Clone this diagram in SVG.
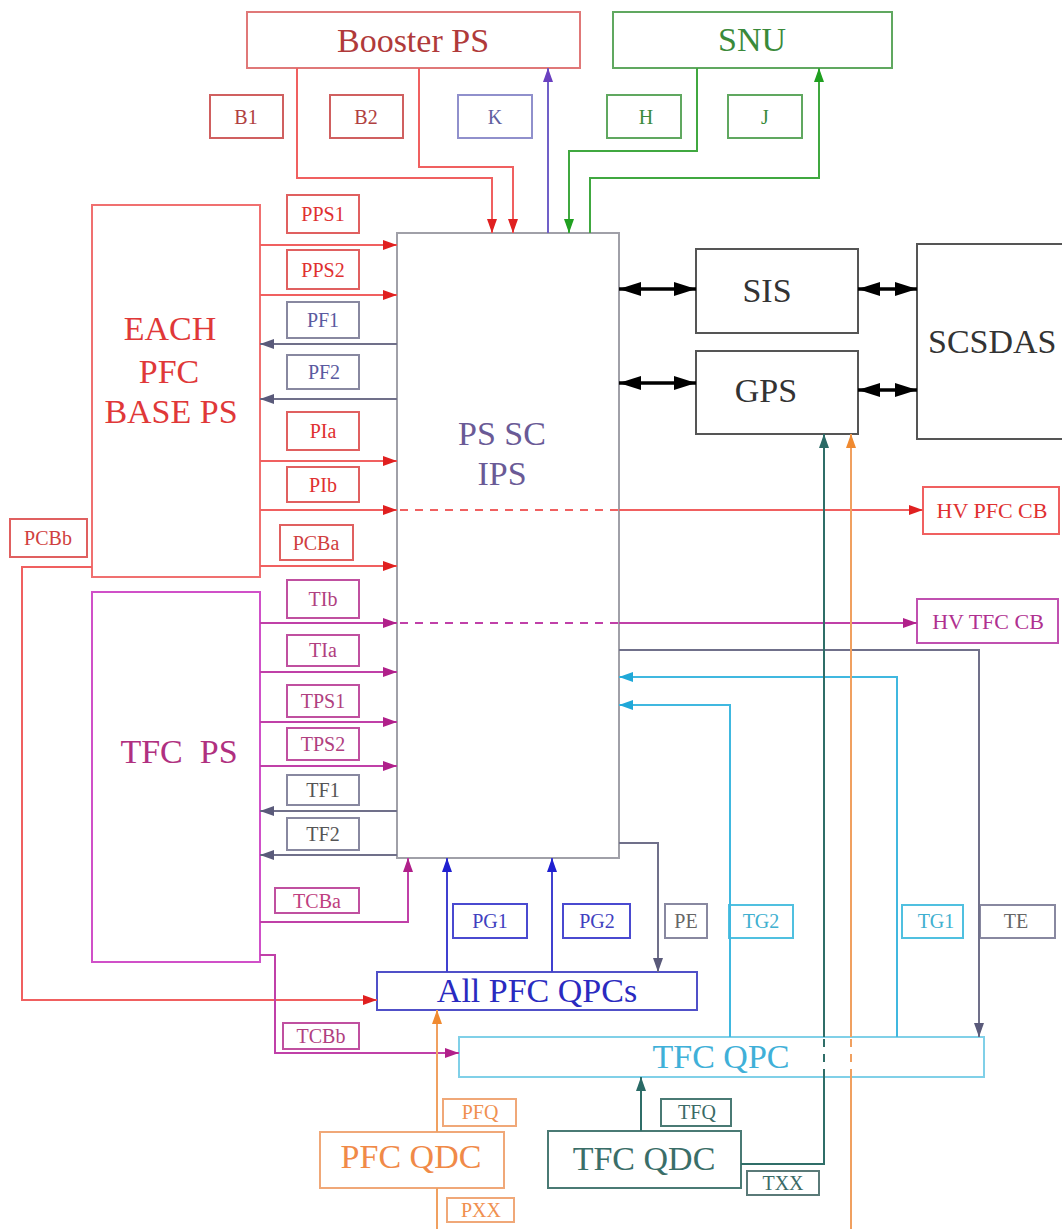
<svg xmlns="http://www.w3.org/2000/svg" width="1062" height="1229" viewBox="0 0 1062 1229">
<style>
text{font-family:"Liberation Serif","Times New Roman",serif;text-anchor:middle}
.big{font-size:34px}
.lbl{font-size:20px}
.hv{font-size:22px}
rect{fill:#fff;stroke-width:2}
.c{fill:none;stroke-width:2}
.red{stroke:#f06060}
.gray{stroke:#70708a}
.mag{stroke:#c040a8}
.blue{stroke:#4040d0}
.cyan{stroke:#40b8e0}
.teal{stroke:#2f6e68}
.org{stroke:#f0a060}
.grn{stroke:#40a840}
.pur{stroke:#7060c8}
.blk{stroke:#000;stroke-width:3.5}
.dash{stroke-dasharray:8 7}
</style>
<defs>
<marker id="aRed" markerUnits="userSpaceOnUse" markerWidth="14" markerHeight="10" refX="14" refY="5" orient="auto"><path d="M0,0L14,5L0,10z" fill="#e02020"/></marker>
<marker id="aGray" markerUnits="userSpaceOnUse" markerWidth="14" markerHeight="10" refX="14" refY="5" orient="auto"><path d="M0,0L14,5L0,10z" fill="#5a5a7a"/></marker>
<marker id="aMag" markerUnits="userSpaceOnUse" markerWidth="14" markerHeight="10" refX="14" refY="5" orient="auto"><path d="M0,0L14,5L0,10z" fill="#b0208a"/></marker>
<marker id="aBlue" markerUnits="userSpaceOnUse" markerWidth="14" markerHeight="10" refX="14" refY="5" orient="auto"><path d="M0,0L14,5L0,10z" fill="#2020d0"/></marker>
<marker id="aCyan" markerUnits="userSpaceOnUse" markerWidth="14" markerHeight="10" refX="14" refY="5" orient="auto"><path d="M0,0L14,5L0,10z" fill="#20a8d8"/></marker>
<marker id="aTeal" markerUnits="userSpaceOnUse" markerWidth="14" markerHeight="10" refX="14" refY="5" orient="auto"><path d="M0,0L14,5L0,10z" fill="#2a6a66"/></marker>
<marker id="aOrg" markerUnits="userSpaceOnUse" markerWidth="14" markerHeight="10" refX="14" refY="5" orient="auto"><path d="M0,0L14,5L0,10z" fill="#f08a30"/></marker>
<marker id="aGrn" markerUnits="userSpaceOnUse" markerWidth="14" markerHeight="10" refX="14" refY="5" orient="auto"><path d="M0,0L14,5L0,10z" fill="#20a020"/></marker>
<marker id="aPur" markerUnits="userSpaceOnUse" markerWidth="14" markerHeight="10" refX="14" refY="5" orient="auto"><path d="M0,0L14,5L0,10z" fill="#6a40c0"/></marker>
<marker id="aBlk" markerUnits="userSpaceOnUse" markerWidth="22" markerHeight="14" refX="22" refY="7" orient="auto-start-reverse"><path d="M0,0L22,7L0,14z" fill="#000"/></marker>
</defs>

<g id="booster-ps"><rect x="247" y="12" width="333" height="56" style="stroke:#e07878"/><text class="big" x="413" y="52" fill="#b03a3a">Booster PS</text></g>
<g id="snu"><rect x="613" y="12" width="279" height="56" style="stroke:#60a860"/><text class="big" x="752" y="51" fill="#3a8a3a">SNU</text></g>
<g id="each-pfc-base-ps"><rect x="92" y="205" width="168" height="372" style="stroke:#f07070"/><text class="big" x="170" y="340" fill="#e03838">EACH</text><text class="big" x="169" y="383" fill="#e03838">PFC</text><text class="big" x="171" y="423" fill="#e03838">BASE PS</text></g>
<g id="tfc-ps"><rect x="92" y="592" width="168" height="370" style="stroke:#d050c8"/><text class="big" x="179" y="763" fill="#b03080" xml:space="preserve">TFC  PS</text></g>
<g id="ps-sc-ips"><rect x="397" y="233" width="222" height="625" style="stroke:#a0a0a8"/><text class="big" x="502" y="445" fill="#6a5a96">PS SC</text><text class="big" x="502" y="485" fill="#6a5a96">IPS</text></g>
<g id="sis"><rect x="696" y="249" width="162" height="84" style="stroke:#555"/><text class="big" x="767" y="302" fill="#333">SIS</text></g>
<g id="gps"><rect x="696" y="351" width="162" height="83" style="stroke:#555"/><text class="big" x="766" y="402" fill="#333">GPS</text></g>
<g id="scsdas"><rect x="917" y="244" width="160" height="195" style="stroke:#555"/><text class="big" x="928" y="353" fill="#333" style="text-anchor:start">SCSDAS</text></g>
<g id="hv-pfc-cb"><rect x="923" y="487" width="136" height="47" style="stroke:#f06060"/><text class="hv" x="992" y="518" fill="#e03030">HV PFC CB</text></g>
<g id="hv-tfc-cb"><rect x="917" y="599" width="141" height="44" style="stroke:#c050b0"/><text class="hv" x="988" y="629" fill="#b03090">HV TFC CB</text></g>
<g id="all-pfc-qpcs"><rect x="377" y="972" width="320" height="38" style="stroke:#5050c8"/><text class="big" x="537" y="1002" fill="#2a2ac0">All PFC QPCs</text></g>
<g id="tfc-qpc"><rect x="459" y="1037" width="525" height="40" style="stroke:#80d0e8"/><text class="big" x="721" y="1068" fill="#40b0d8">TFC QPC</text></g>
<g id="pfc-qdc"><rect x="320" y="1132" width="184" height="56" style="stroke:#f0a878"/><text class="big" x="411" y="1168" fill="#f08a48">PFC QDC</text></g>
<g id="tfc-qdc"><rect x="548" y="1131" width="193" height="57" style="stroke:#4a7a74"/><text class="big" x="644" y="1170" fill="#3a6e68">TFC QDC</text></g>

<g id="label-b1"><rect x="210" y="95" width="73" height="43" style="stroke:#d06060"/><text class="lbl" x="246" y="124" fill="#b04040">B1</text></g>
<g id="label-b2"><rect x="330" y="95" width="73" height="43" style="stroke:#d06060"/><text class="lbl" x="366" y="124" fill="#b04040">B2</text></g>
<g id="label-k"><rect x="458" y="95" width="74" height="43" style="stroke:#9090cc"/><text class="lbl" x="495" y="124" fill="#6060a0">K</text></g>
<g id="label-h"><rect x="607" y="95" width="74" height="43" style="stroke:#60a860"/><text class="lbl" x="646" y="124" fill="#3a8a3a">H</text></g>
<g id="label-j"><rect x="728" y="95" width="74" height="43" style="stroke:#60a860"/><text class="lbl" x="765" y="124" fill="#3a8a3a">J</text></g>
<g id="label-pps1"><rect x="287" y="195" width="72" height="38" style="stroke:#e06060"/><text class="lbl" x="323" y="221" fill="#e03030">PPS1</text></g>
<g id="label-pps2"><rect x="287" y="250" width="72" height="39" style="stroke:#e06060"/><text class="lbl" x="323" y="277" fill="#e03030">PPS2</text></g>
<g id="label-pf1"><rect x="287" y="302" width="72" height="36" style="stroke:#8888a0"/><text class="lbl" x="323" y="327" fill="#5a5aa0">PF1</text></g>
<g id="label-pf2"><rect x="287" y="355" width="72" height="34" style="stroke:#8888a0"/><text class="lbl" x="324" y="379" fill="#5a5aa0">PF2</text></g>
<g id="label-pia"><rect x="287" y="412" width="72" height="38" style="stroke:#e06060"/><text class="lbl" x="323" y="438" fill="#e03030">PIa</text></g>
<g id="label-pib"><rect x="287" y="467" width="72" height="35" style="stroke:#e06060"/><text class="lbl" x="323" y="492" fill="#e03030">PIb</text></g>
<g id="label-pcba"><rect x="280" y="525" width="73" height="35" style="stroke:#e06060"/><text class="lbl" x="316" y="550" fill="#d04040">PCBa</text></g>
<g id="label-pcbb"><rect x="10" y="519" width="77" height="38" style="stroke:#e06060"/><text class="lbl" x="48" y="545" fill="#d04040">PCBb</text></g>
<g id="label-tib"><rect x="287" y="580" width="72" height="38" style="stroke:#c050a0"/><text class="lbl" x="323" y="606" fill="#b04080">TIb</text></g>
<g id="label-tia"><rect x="287" y="635" width="72" height="31" style="stroke:#c050a0"/><text class="lbl" x="323" y="657" fill="#b04080">TIa</text></g>
<g id="label-tps1"><rect x="287" y="685" width="72" height="32" style="stroke:#c050a0"/><text class="lbl" x="323" y="708" fill="#b04080">TPS1</text></g>
<g id="label-tps2"><rect x="287" y="728" width="72" height="32" style="stroke:#c050a0"/><text class="lbl" x="323" y="751" fill="#b04080">TPS2</text></g>
<g id="label-tf1"><rect x="287" y="775" width="72" height="30" style="stroke:#8888a0"/><text class="lbl" x="323" y="797" fill="#555">TF1</text></g>
<g id="label-tf2"><rect x="287" y="818" width="72" height="32" style="stroke:#8888a0"/><text class="lbl" x="323" y="841" fill="#555">TF2</text></g>
<g id="label-tcba"><rect x="275" y="888" width="84" height="25" style="stroke:#c050a0"/><text class="lbl" x="317" y="908" fill="#c04080">TCBa</text></g>
<g id="label-tcbb"><rect x="283" y="1023" width="76" height="26" style="stroke:#c050a0"/><text class="lbl" x="321" y="1043" fill="#b04080">TCBb</text></g>
<g id="label-pg1"><rect x="453" y="904" width="74" height="34" style="stroke:#4a4ad0"/><text class="lbl" x="490" y="928" fill="#4040c0">PG1</text></g>
<g id="label-pg2"><rect x="563" y="904" width="67" height="34" style="stroke:#4a4ad0"/><text class="lbl" x="597" y="928" fill="#4040c0">PG2</text></g>
<g id="label-pe"><rect x="665" y="904" width="42" height="34" style="stroke:#8888a0"/><text class="lbl" x="686" y="928" fill="#666">PE</text></g>
<g id="label-tg2"><rect x="729" y="905" width="64" height="33" style="stroke:#50c0e0"/><text class="lbl" x="761" y="928" fill="#40b0d0">TG2</text></g>
<g id="label-tg1"><rect x="902" y="905" width="61" height="33" style="stroke:#50c0e0"/><text class="lbl" x="936" y="928" fill="#40b0d0">TG1</text></g>
<g id="label-te"><rect x="980" y="905" width="75" height="33" style="stroke:#8888a0"/><text class="lbl" x="1016" y="928" fill="#666">TE</text></g>
<g id="label-pfq"><rect x="443" y="1099" width="73" height="27" style="stroke:#f0a878"/><text class="lbl" x="480" y="1119" fill="#f09050">PFQ</text></g>
<g id="label-tfq"><rect x="661" y="1099" width="70" height="27" style="stroke:#4a7a74"/><text class="lbl" x="697" y="1119" fill="#3a6a66">TFQ</text></g>
<g id="label-txx"><rect x="747" y="1171" width="72" height="24" style="stroke:#5a7a78"/><text class="lbl" x="783" y="1190" fill="#3a6a66">TXX</text></g>
<g id="label-pxx"><rect x="447" y="1198" width="67" height="24" style="stroke:#f0a878"/><text class="lbl" x="481" y="1217" fill="#f09050">PXX</text></g>

<g id="connectors">
<path class="c red" d="M297,68V178H492V233" marker-end="url(#aRed)"/>
<path class="c red" d="M419,68V167H513V233" marker-end="url(#aRed)"/>
<path class="c pur" d="M548,233V68" marker-end="url(#aPur)"/>
<path class="c grn" d="M697,68V151H569V233" marker-end="url(#aGrn)"/>
<path class="c grn" d="M590,233V178H819V68" marker-end="url(#aGrn)"/>
<path class="c red" d="M260,245H397" marker-end="url(#aRed)"/>
<path class="c red" d="M260,295H397" marker-end="url(#aRed)"/>
<path class="c gray" d="M397,344H260" marker-end="url(#aGray)"/>
<path class="c gray" d="M397,399H260" marker-end="url(#aGray)"/>
<path class="c red" d="M260,461H397" marker-end="url(#aRed)"/>
<path class="c red" d="M260,510H397" marker-end="url(#aRed)"/>
<path class="c red dash" d="M400,510H619"/>
<path class="c red" d="M619,510H923" marker-end="url(#aRed)"/>
<path class="c red" d="M260,566H397" marker-end="url(#aRed)"/>
<path class="c red" d="M92,567H22V1000H377" marker-end="url(#aRed)"/>
<path class="c mag" d="M260,623H397" marker-end="url(#aMag)"/>
<path class="c mag dash" d="M400,623H619"/>
<path class="c mag" d="M619,623H917" marker-end="url(#aMag)"/>
<path class="c mag" d="M260,672H397" marker-end="url(#aMag)"/>
<path class="c mag" d="M260,722H397" marker-end="url(#aMag)"/>
<path class="c mag" d="M260,766H397" marker-end="url(#aMag)"/>
<path class="c gray" d="M397,811H260" marker-end="url(#aGray)"/>
<path class="c gray" d="M397,855H260" marker-end="url(#aGray)"/>
<path class="c mag" d="M260,922H408V858" marker-end="url(#aMag)"/>
<path class="c mag" d="M260,955H275V1053H459" marker-end="url(#aMag)"/>
<path class="c blue" d="M447,972V858" marker-end="url(#aBlue)"/>
<path class="c blue" d="M552,972V858" marker-end="url(#aBlue)"/>
<path class="c gray" d="M619,843H658V972" marker-end="url(#aGray)"/>
<path class="c gray" d="M619,650H979V1037" marker-end="url(#aGray)"/>
<path class="c cyan" d="M897,1037V677H619" marker-end="url(#aCyan)"/>
<path class="c cyan" d="M730,1037V705H619" marker-end="url(#aCyan)"/>
<path class="c teal" d="M641,1131V1077" marker-end="url(#aTeal)"/>
<path class="c teal" d="M741,1164H824V1077"/>
<path class="c teal dash" d="M824,1077V1037"/>
<path class="c teal" d="M824,1037V434" marker-end="url(#aTeal)"/>
<path class="c org" d="M851,1229V1077"/>
<path class="c org dash" d="M851,1077V1037"/>
<path class="c org" d="M851,1037V434" marker-end="url(#aOrg)"/>
<path class="c org" d="M437,1132V1010" marker-end="url(#aOrg)"/>
<path class="c org" d="M437,1188V1229"/>
<path class="c blk" d="M619,289H696" marker-start="url(#aBlk)" marker-end="url(#aBlk)"/>
<path class="c blk" d="M619,383H696" marker-start="url(#aBlk)" marker-end="url(#aBlk)"/>
<path class="c blk" d="M858,289H917" marker-start="url(#aBlk)" marker-end="url(#aBlk)"/>
<path class="c blk" d="M858,390H917" marker-start="url(#aBlk)" marker-end="url(#aBlk)"/>
</g>
</svg>
